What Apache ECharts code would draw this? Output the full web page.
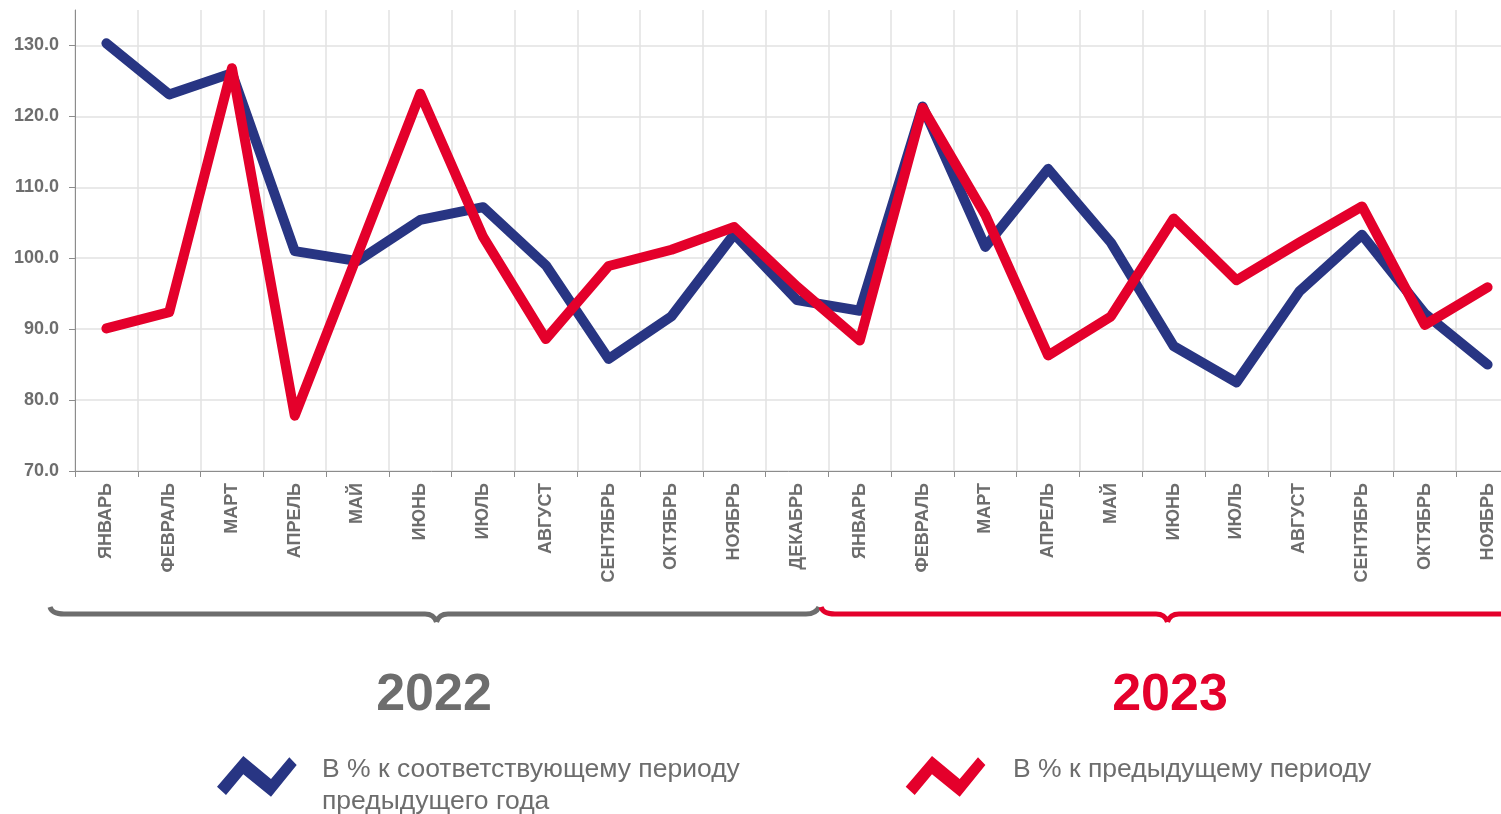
<!DOCTYPE html>
<html><head><meta charset="utf-8">
<script src="https://cdn.jsdelivr.net/npm/echarts@6/dist/echarts.min.js"></script>
<style>html,body{margin:0;padding:0;background:#fff}#c{width:1501px;height:814px}</style>
</head><body><div id="c"></div><script>
const months = ['ЯНВАРЬ','ФЕВРАЛЬ','МАРТ','АПРЕЛЬ','МАЙ','ИЮНЬ','ИЮЛЬ','АВГУСТ','СЕНТЯБРЬ','ОКТЯБРЬ','НОЯБРЬ','ДЕКАБРЬ',
  'ЯНВАРЬ','ФЕВРАЛЬ','МАРТ','АПРЕЛЬ','МАЙ','ИЮНЬ','ИЮЛЬ','АВГУСТ','СЕНТЯБРЬ','ОКТЯБРЬ','НОЯБРЬ'];
const yoy = [130.3,123.1,126.1,101.0,99.6,105.4,107.2,99.0,85.8,91.8,103.4,94.1,
  92.6,121.4,101.6,112.6,102.2,87.6,82.5,95.3,103.3,92.2,85.0];
const mom = [90.1,92.4,126.8,77.8,100.5,123.2,103.0,88.6,98.9,101.2,104.4,96.0,
  88.4,121.2,106.1,86.3,91.8,105.6,96.9,102.2,107.3,90.6,95.9];
const seriesNames = ['В % к соответствующему периоду\nпредыдущего года','В % к предыдущему периоду'];
const years = ['2022','2023'];
const yMin = 70, yMax = 135, yStep = 10;

const FONT = "'Liberation Sans', Arial, sans-serif";
const GRAY = '#6d6d6d', BLUE = '#283583', RED = '#e4002b';
const iconPts = [[0,30.7],[26.3,0],[54,23],[72.3,1.3],[79.7,9],[54,40.7],[26.3,18.3],[9,39]];

function brace(x0, xc, x1, color, curlEnd) {
  const y = 614, st = {fill:null, stroke:color, lineWidth:5};
  const els = [
    {type:'bezierCurve', shape:{x1:x0, y1:607, cpx1:x0+2, cpy1:y, x2:x0+14, y2:y}, style:st},
    {type:'line', shape:{x1:x0+14, y1:y, x2:xc-11.5, y2:y}, style:st},
    {type:'bezierCurve', shape:{x1:xc-11.5, y1:y, cpx1:xc-2.5, cpy1:y, x2:xc, y2:622}, style:st},
    {type:'bezierCurve', shape:{x1:xc, y1:622, cpx1:xc+2.5, cpy1:y, x2:xc+11.5, y2:y}, style:st}
  ];
  if (curlEnd) {
    els.push({type:'line', shape:{x1:xc+11.5, y1:y, x2:x1-13, y2:y}, style:st});
    els.push({type:'bezierCurve', shape:{x1:x1-13, y1:y, cpx1:x1-3, cpy1:y, x2:x1, y2:607}, style:st});
  } else {
    els.push({type:'line', shape:{x1:xc+11.5, y1:y, x2:x1, y2:y}, style:st});
  }
  return els;
}
function legendItem(x, y, color, text, tx, fs) {
  return [
    {type:'polygon', shape:{points:iconPts.map(p=>[x+p[0], y+p[1]])}, style:{fill:color}},
    {type:'text', x:tx, y:754, style:{text:text, fill:GRAY, font:fs+'px '+FONT, lineHeight:32, textVerticalAlign:'top'}}
  ];
}

const chart = echarts.init(document.getElementById('c'), null, {renderer:'canvas'});
chart.setOption({
  backgroundColor:'#fff',
  animation:false,
  grid:{left:75, width:1444, top:10, bottom:343, containLabel:false, outerBoundsMode:'none'},
  xAxis:{
    type:'category', data:months, boundaryGap:true,
    axisLine:{lineStyle:{color:'#8c8c8c', width:1}},
    axisTick:{show:true, length:6, lineStyle:{color:'#8c8c8c'}},
    axisLabel:{rotate:90, interval:0, margin:12, color:GRAY, fontSize:18, fontWeight:'bold', fontFamily:FONT,
      padding:[5,0,0,0]},
    splitLine:{show:true, interval:0, lineStyle:{color:'#e2e2e2', width:1.5}}
  },
  yAxis:{
    type:'value', min:yMin, max:yMax, interval:yStep,
    axisLine:{show:true, lineStyle:{color:'#8c8c8c', width:1}},
    axisTick:{show:true, length:6, lineStyle:{color:'#8c8c8c'}},
    axisLabel:{showMaxLabel:false, margin:16, color:GRAY, fontSize:18, fontWeight:'bold', fontFamily:FONT,
      formatter:v=>v.toFixed(1)},
    splitLine:{show:true, showMaxLine:false, lineStyle:{color:'#e2e2e2', width:1.5}}
  },
  legend:{show:false, data:seriesNames},
  series:[
    {name:seriesNames[0], type:'line', data:yoy, showSymbol:false, symbol:'none', color:BLUE,
     lineStyle:{color:BLUE, width:10, cap:'round', join:'round'}},
    {name:seriesNames[1], type:'line', data:mom, showSymbol:false, symbol:'none', color:RED,
     lineStyle:{color:RED, width:10, cap:'round', join:'round'}}
  ],
  graphic:[].concat(
    brace(50, 436.5, 819, GRAY, true),
    brace(821, 1167.5, 1510, RED, false),
    [
      {type:'text', x:434, y:696, style:{text:years[0], fill:GRAY, font:'bold 52px '+FONT, textAlign:'center', textVerticalAlign:'middle'}},
      {type:'text', x:1170, y:696, style:{text:years[1], fill:RED, font:'bold 52px '+FONT, textAlign:'center', textVerticalAlign:'middle'}}
    ],
    legendItem(217, 756, BLUE, seriesNames[0], 322, 26.5),
    legendItem(905.7, 756, RED, seriesNames[1], 1013, 26.5)
  )
});
</script></body></html>
